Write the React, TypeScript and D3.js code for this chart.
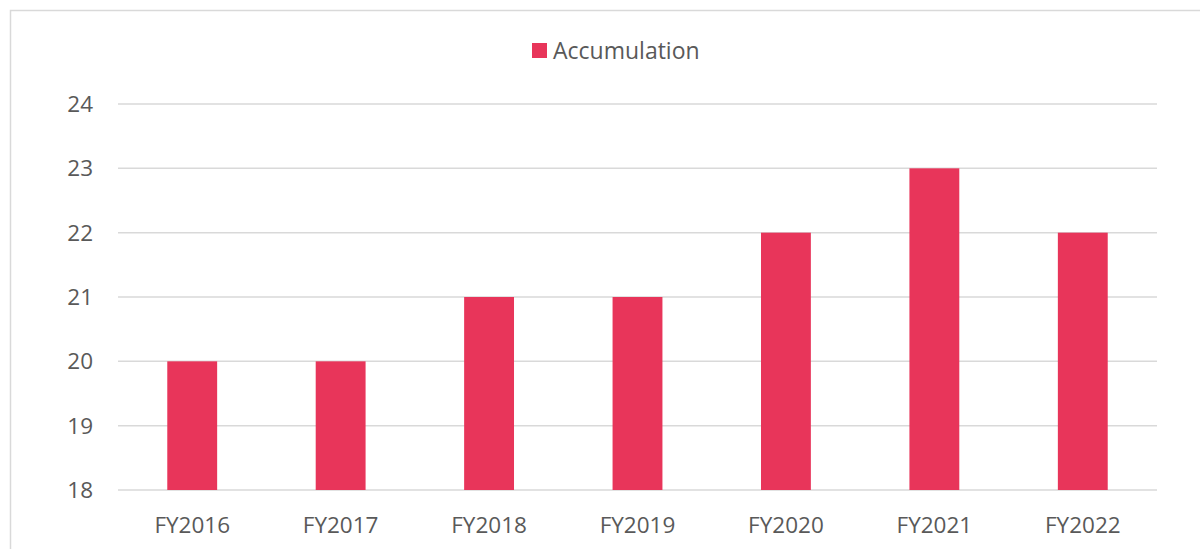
import React from "react";
import * as d3 from "d3";

const categories = ["FY2016", "FY2017", "FY2018", "FY2019", "FY2020", "FY2021", "FY2022"];
const accumulation = [20, 20, 21, 21, 22, 23, 22];
const yTicks = [18, 19, 20, 21, 22, 23, 24];
const seriesName = "Accumulation";

const W = 1200;
const H = 549;
const FONT = "'Open Sans', 'Noto Sans', sans-serif";
const BAR = "#e8355a";
const TEXT = "#595959";

export default function App() {
  const x = d3.scaleBand<string>().domain(categories).range([118, 1157]).paddingInner(0.664).paddingOuter(0.332);
  const y = d3.scaleLinear().domain([18, 24]).range([490, 104]);
  return (
    <svg width={W} height={H} style={{ position: "absolute", left: 0, top: 0 }} fontFamily={FONT}>
      <rect x={10.5} y={10.5} width={1300} height={700} fill="#fff" stroke="#d9d9d9" strokeWidth={1.5} />
      {yTicks.map((t) => (
        <g key={t}>
          <line x1={118} x2={1157} y1={y(t)} y2={y(t)} stroke="#d9d9d9" strokeWidth={1.5} />
          <text x={93} y={y(t)} dy="0.35em" textAnchor="end" fontSize={22.5} fill={TEXT}>
            {t}
          </text>
        </g>
      ))}
      {categories.map((c, i) => (
        <rect key={c} x={x(c)} y={y(accumulation[i])} width={x.bandwidth()} height={y(18) - y(accumulation[i])} fill={BAR} />
      ))}
      {categories.map((c) => (
        <text key={c} x={(x(c) as number) + x.bandwidth() / 2} y={525} dy="0.35em" textAnchor="middle" fontSize={22.5} fill={TEXT}>
          {c}
        </text>
      ))}
      <rect x={532} y={43} width={15} height={15} fill={BAR} />
      <text x={553} y={50.5} dy="0.35em" fontSize={23} fill={TEXT}>
        {seriesName}
      </text>
    </svg>
  );
}
